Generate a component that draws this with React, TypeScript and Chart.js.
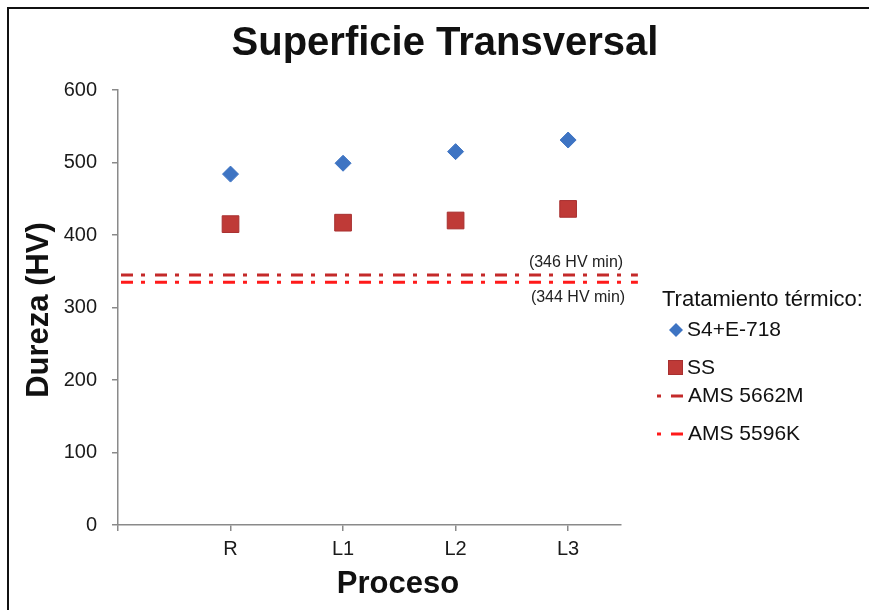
import React, { useEffect, useRef } from 'react';
import { Chart, registerables } from 'chart.js';

Chart.register(...registerables);

const chartTitle = 'Superficie Transversal';
const xAxisTitle = 'Proceso';
const yAxisTitle = 'Dureza (HV)';
const legendTitle = 'Tratamiento térmico:';

const categories = ['R', 'L1', 'L2', 'L3'];
const categoryPositions = [1, 2, 3, 4];

const s4Label = 'S4+E-718';
const s4Values = [484, 499, 515, 531];

const ssLabel = 'SS';
const ssValues = [415, 417, 420, 436];

const amsLabels = ['AMS 5662M', 'AMS 5596K'];
const amsValues = [345, 335];
const amsNotes = ['(346 HV min)', '(344 HV min)'];
const amsLineSpan = [0, 4.62];

const yMin = 0;
const yMax = 600;
const yStep = 100;
const xMin = 0;
const xMax = 4.47;

const FONT = '"Liberation Sans", Arial, sans-serif';
const AXIS_GREY = '#8a8a8a';
const S4_COLOR = '#3E74C3';
const SS_COLOR = '#BF3A37';
const SS_BORDER = '#A83030';
const AMS_COLORS = ['#C42A2A', '#FF1A1A'];
const AMS_DASH = [12, 8, 4, 10];

const textPlugin = {
  id: 'textPlugin',
  afterDraw(chart: any) {
    const ctx = chart.ctx as CanvasRenderingContext2D;
    const yScale = chart.scales.y;
    ctx.save();
    ctx.fillStyle = '#111';
    ctx.textBaseline = 'middle';

    // Title
    ctx.font = `bold 40px ${FONT}`;
    ctx.textAlign = 'center';
    ctx.fillText(chartTitle, 445, 44);

    // X axis title
    ctx.font = `bold 31px ${FONT}`;
    ctx.fillText(xAxisTitle, 398, 584);

    // Y axis title
    ctx.save();
    ctx.translate(39, 310);
    ctx.rotate(-Math.PI / 2);
    ctx.fillText(yAxisTitle, 0, 0);
    ctx.restore();

    // Notes near the AMS lines
    ctx.font = `16px ${FONT}`;
    ctx.fillStyle = '#222';
    const py0 = yScale.getPixelForValue(amsValues[0]);
    const py1 = yScale.getPixelForValue(amsValues[1]);
    ctx.fillText(amsNotes[0], 576, py0 - 12);
    ctx.fillText(amsNotes[1], 578, py1 + 15);

    // Legend
    ctx.fillStyle = '#111';
    ctx.textAlign = 'left';
    ctx.font = `22px ${FONT}`;
    ctx.fillText(legendTitle, 662, 300);
    ctx.font = `21px ${FONT}`;

    // S4 diamond
    ctx.fillStyle = S4_COLOR;
    ctx.beginPath();
    ctx.moveTo(676, 323);
    ctx.lineTo(683, 330);
    ctx.lineTo(676, 337);
    ctx.lineTo(669, 330);
    ctx.closePath();
    ctx.fill();
    ctx.fillStyle = '#111';
    ctx.fillText(s4Label, 687, 330);

    // SS square
    ctx.fillStyle = SS_COLOR;
    ctx.fillRect(668, 360, 15, 15);
    ctx.strokeStyle = SS_BORDER;
    ctx.lineWidth = 1;
    ctx.strokeRect(668.5, 360.5, 14, 14);
    ctx.fillStyle = '#111';
    ctx.fillText(ssLabel, 687, 368);

    // AMS lines
    const legY = [396, 434];
    amsLabels.forEach((lab, i) => {
      ctx.save();
      ctx.strokeStyle = AMS_COLORS[i];
      ctx.lineWidth = 3;
      ctx.setLineDash(AMS_DASH);
      ctx.lineDashOffset = 20;
      ctx.beginPath();
      ctx.moveTo(657, legY[i]);
      ctx.lineTo(683, legY[i]);
      ctx.stroke();
      ctx.restore();
      ctx.fillStyle = '#111';
      ctx.fillText(lab, 688, legY[i]);
    });

    ctx.restore();
  },
};

export default function App() {
  const canvasRef = useRef<HTMLCanvasElement | null>(null);

  useEffect(() => {
    if (!canvasRef.current) return;
    const datasets: any[] = [
      ...amsLabels.map((lab, i) => ({
        label: lab,
        data: amsLineSpan.map((x) => ({ x, y: amsValues[i] })),
        showLine: true,
        borderColor: AMS_COLORS[i],
        borderWidth: 3,
        borderDash: AMS_DASH,
        borderDashOffset: 31,
        pointRadius: 0,
        clip: false,
        order: 3,
      })),
      {
        label: ssLabel,
        data: categoryPositions.map((x, i) => ({ x, y: ssValues[i] })),
        pointStyle: 'rect',
        pointRadius: 11.8,
        backgroundColor: SS_COLOR,
        borderColor: SS_BORDER,
        borderWidth: 1,
        order: 2,
      },
      {
        label: s4Label,
        data: categoryPositions.map((x, i) => ({ x, y: s4Values[i] })),
        pointStyle: 'rectRot',
        pointRadius: 8,
        backgroundColor: S4_COLOR,
        borderColor: S4_COLOR,
        borderWidth: 1,
        order: 1,
      },
    ];

    const chart = new Chart(canvasRef.current, {
      type: 'scatter',
      data: { datasets },
      plugins: [textPlugin],
      options: {
        animation: false,
        responsive: false,
        events: [],
        layout: { padding: { top: 90, right: 248, bottom: 0, left: 0 } },
        plugins: {
          legend: { display: false },
          tooltip: { enabled: false },
          title: { display: false },
        },
        scales: {
          x: {
            type: 'linear',
            min: xMin,
            max: xMax,
            afterFit: (scale: any) => {
              scale.height = 85;
            },
            afterBuildTicks: (scale: any) => {
              scale.ticks = [0, ...categoryPositions].map((v) => ({ value: v }));
            },
            ticks: {
              autoSkip: false,
              maxRotation: 0,
              padding: 6,
              color: '#1a1a1a',
              font: { family: FONT, size: 20 },
              callback: (value: any) => {
                const i = categoryPositions.indexOf(Number(value));
                return i >= 0 ? categories[i] : '';
              },
            },
            grid: {
              drawOnChartArea: false,
              drawTicks: true,
              tickLength: 6,
              color: AXIS_GREY,
              lineWidth: 1.5,
            },
            border: { color: AXIS_GREY, width: 1.5 },
          },
          y: {
            type: 'linear',
            min: yMin,
            max: yMax,
            afterFit: (scale: any) => {
              scale.width = 118;
            },
            ticks: {
              stepSize: yStep,
              padding: 15,
              color: '#1a1a1a',
              font: { family: FONT, size: 20 },
            },
            grid: {
              drawOnChartArea: false,
              drawTicks: true,
              tickLength: 6,
              color: AXIS_GREY,
              lineWidth: 1.5,
            },
            border: { color: AXIS_GREY, width: 1.5 },
          },
        },
      } as any,
    });
    return () => chart.destroy();
  }, []);

  return (
    <div style={{ position: 'absolute', left: 0, top: 0, width: 869, height: 610, background: '#fff', overflow: 'hidden' }}>
      <canvas ref={canvasRef} width={869} height={610} style={{ position: 'absolute', left: 0, top: 0 }} />
      <div
        style={{
          position: 'absolute',
          left: 7,
          top: 7,
          width: 862,
          height: 603,
          borderTop: '2px solid #111',
          borderLeft: '2px solid #111',
          boxSizing: 'border-box',
          pointerEvents: 'none',
        }}
      />
    </div>
  );
}
